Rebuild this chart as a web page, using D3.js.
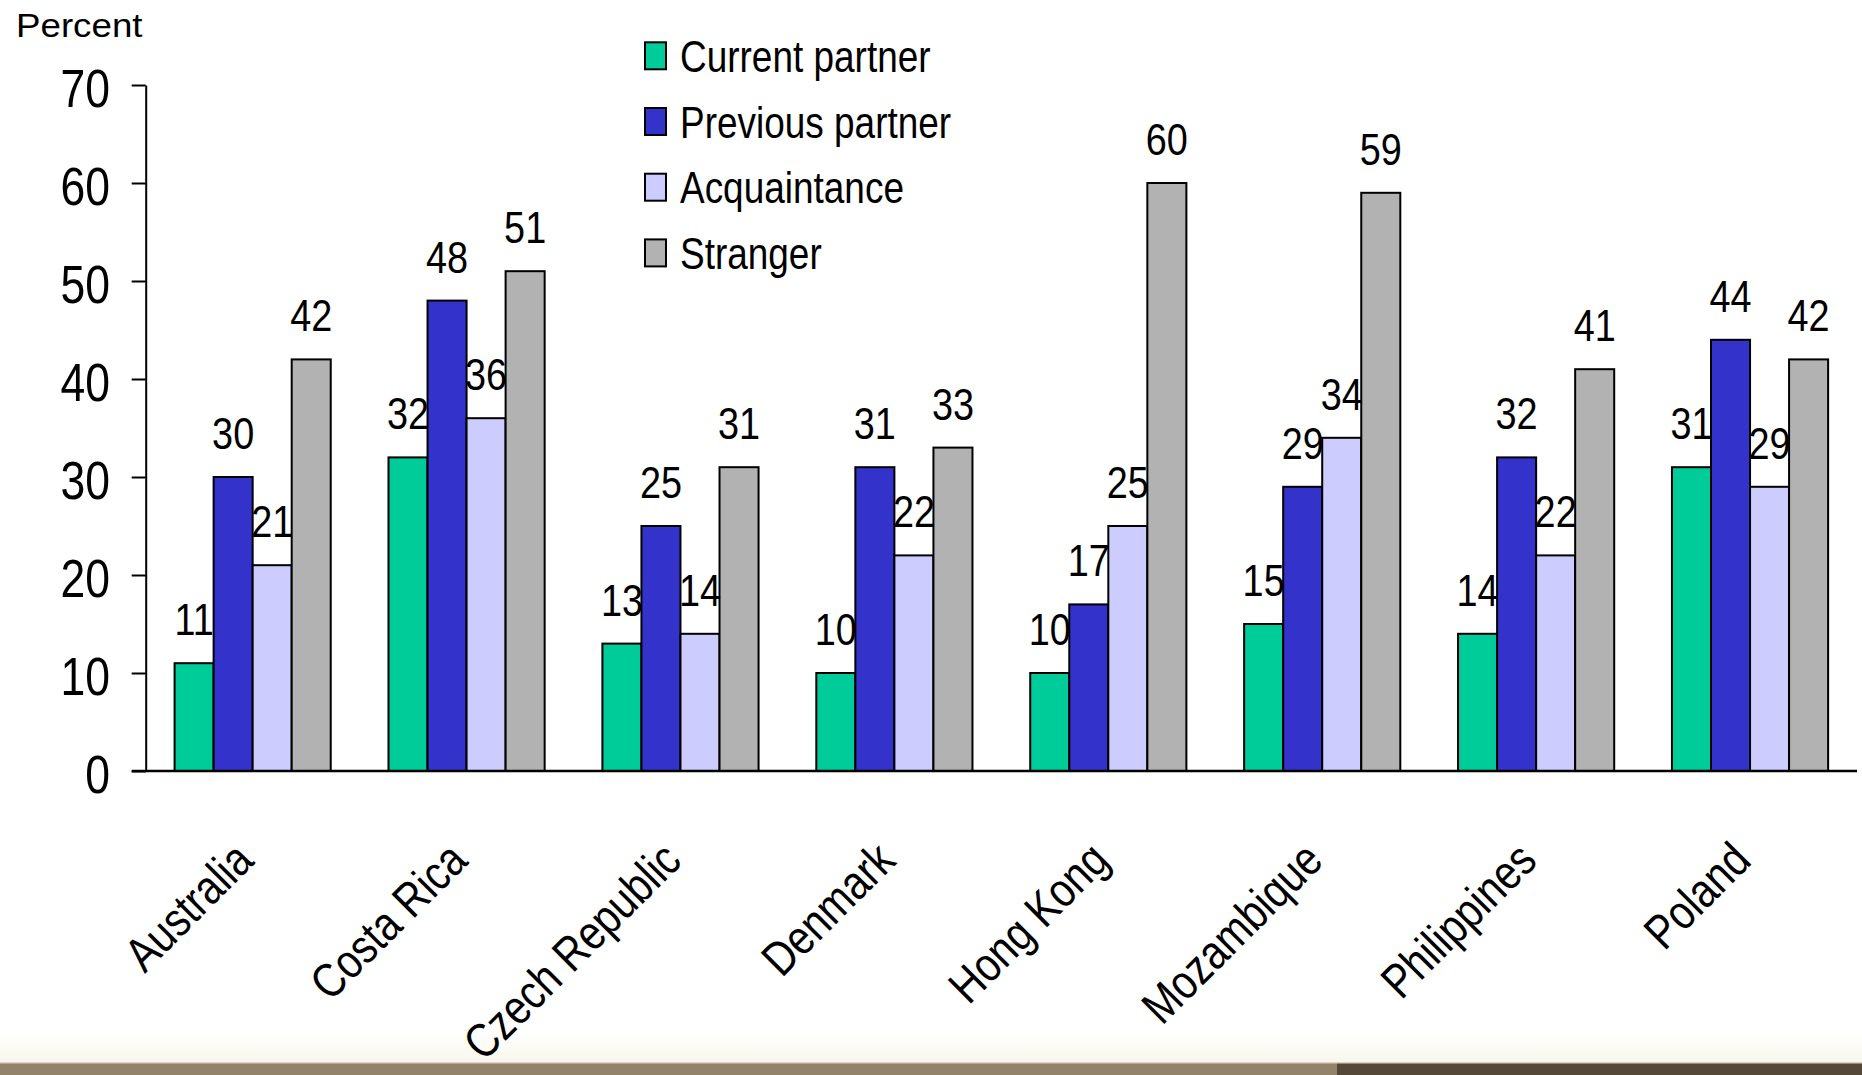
<!DOCTYPE html>
<html>
<head>
<meta charset="utf-8">
<script src="https://cdn.jsdelivr.net/npm/d3@7"></script>
<style>
  html, body { margin: 0; padding: 0; background: #ffffff; }
  svg { display: block; }
  text { font-family: "Liberation Sans", Arial, sans-serif; fill: #000; }
</style>
</head>
<body>
<svg id="chart" width="1862" height="1075"></svg>
<script>
// Who committed the assault, percent of victims, by country
const countries = ["Australia", "Costa Rica", "Czech Republic", "Denmark",
                   "Hong Kong", "Mozambique", "Philippines", "Poland"];
const seriesNames = ["Current partner", "Previous partner", "Acquaintance", "Stranger"];
const currentPartner  = [11, 32, 13, 10, 10, 15, 14, 31];
const previousPartner = [30, 48, 25, 31, 17, 29, 32, 44];
const acquaintance    = [21, 36, 14, 22, 25, 34, 22, 29];
const stranger        = [42, 51, 31, 33, 60, 59, 41, 42];
const yTicks = [0, 10, 20, 30, 40, 50, 60, 70];
const colors = ["#00cc99", "#3333cc", "#ccccff", "#b2b2b2"];

const series = [currentPartner, previousPartner, acquaintance, stranger];
const rows = countries.map((c, i) => ({
  country: c,
  values: seriesNames.map((s, k) => ({ key: s, k, value: series[k][i] }))
}));

const W = 1862, H = 1075;
const plotLeft = 145.7, plotRight = 1857, plotTop = 85, plotBottom = 771;
const narrow = 0.84;   // condensed lettering used for the chart text

const svg = d3.select("#chart");

// soft footer band
const defs = svg.append("defs");
const fade = defs.append("linearGradient").attr("id", "fade")
  .attr("x1", 0).attr("y1", 0).attr("x2", 0).attr("y2", 1);
fade.append("stop").attr("offset", 0).attr("stop-color", "#ffffff");
fade.append("stop").attr("offset", 1).attr("stop-color", "#f9f7ec");
svg.append("rect").attr("x", 0).attr("y", 1030).attr("width", W).attr("height", 33)
  .attr("fill", "url(#fade)");
svg.append("rect").attr("x", 0).attr("y", 1063).attr("width", 1337).attr("height", 12)
  .attr("fill", "#93836b");
svg.append("rect").attr("x", 1337).attr("y", 1063).attr("width", W - 1337).attr("height", 12)
  .attr("fill", "#554839");
svg.append("rect").attr("x", 0).attr("y", 1062).attr("width", W).attr("height", 1.5)
  .attr("fill", "#d9d2c2");

const x0 = d3.scaleBand().domain(countries).range([plotLeft, plotRight])
  .paddingInner(0.27).paddingOuter(0.135);
const x1 = d3.scaleBand().domain(seriesNames).range([0, x0.bandwidth()]).padding(0);
const y = d3.scaleLinear().domain([0, 70]).range([plotBottom, plotTop]);

// y axis
const yAxis = svg.append("g").attr("transform", `translate(${plotLeft},0)`)
  .call(d3.axisLeft(y).tickValues(yTicks).tickSize(14).tickSizeOuter(0).tickFormat(d3.format("d")));
yAxis.select(".domain").attr("stroke", "#000").attr("stroke-width", 2);
yAxis.selectAll(".tick line").attr("stroke", "#000").attr("stroke-width", 2);
yAxis.selectAll(".tick text")
  .attr("x", 0).attr("dy", "0.36em")
  .attr("transform", `translate(-35.7,2) scale(${narrow},1)`)
  .attr("text-anchor", "end")
  .style("font-family", "'Liberation Sans', Arial, sans-serif")
  .style("font-size", "53px").attr("fill", "#000");

// bars
const groups = svg.append("g").selectAll("g").data(rows).join("g")
  .attr("transform", d => `translate(${x0(d.country)},0)`);
groups.selectAll("rect").data(d => d.values).join("rect")
  .attr("x", d => x1(d.key))
  .attr("y", d => y(d.value))
  .attr("width", x1.bandwidth())
  .attr("height", d => y(0) - y(d.value))
  .attr("fill", d => colors[d.k])
  .attr("stroke", "#000").attr("stroke-width", 2);

// x axis
const xAxis = svg.append("g").attr("transform", `translate(0,${plotBottom})`)
  .call(d3.axisBottom(x0).tickSize(0).tickSizeOuter(0));
xAxis.select(".domain").attr("d", `M${plotLeft - 14},0H${plotRight}`)
  .attr("stroke", "#000").attr("stroke-width", 2.5);
xAxis.selectAll(".tick text")
  .attr("x", 0).attr("y", 0).attr("dy", 0)
  .attr("transform", `translate(3,92) rotate(-45) scale(${narrow},1)`)
  .attr("text-anchor", "end")
  .style("font-family", "'Liberation Sans', Arial, sans-serif")
  .style("font-size", "48px").attr("fill", "#000");

// value labels above each bar
groups.selectAll("text.val").data(d => d.values).join("text")
  .attr("class", "val")
  .attr("text-anchor", "middle")
  .attr("transform", d => `translate(${x1(d.key) + x1.bandwidth() / 2},${y(d.value) - 28}) scale(0.86,1)`)
  .style("font-size", "44px")
  .text(d => d.value);

// legend
const legend = svg.append("g").selectAll("g").data(seriesNames).join("g")
  .attr("transform", (d, i) => `translate(645,${42.3 + i * 65.7})`);
legend.append("rect").attr("width", 21).attr("height", 27)
  .attr("fill", (d, i) => colors[i]).attr("stroke", "#000").attr("stroke-width", 2);
legend.append("text")
  .attr("transform", `translate(35,29.5) scale(${narrow},1)`)
  .style("font-size", "44px")
  .text(d => d);

// axis unit
svg.append("text")
  .attr("transform", "translate(16,37) scale(1.08,1)")
  .style("font-size", "34px")
  .text("Percent");
</script>
</body>
</html>
